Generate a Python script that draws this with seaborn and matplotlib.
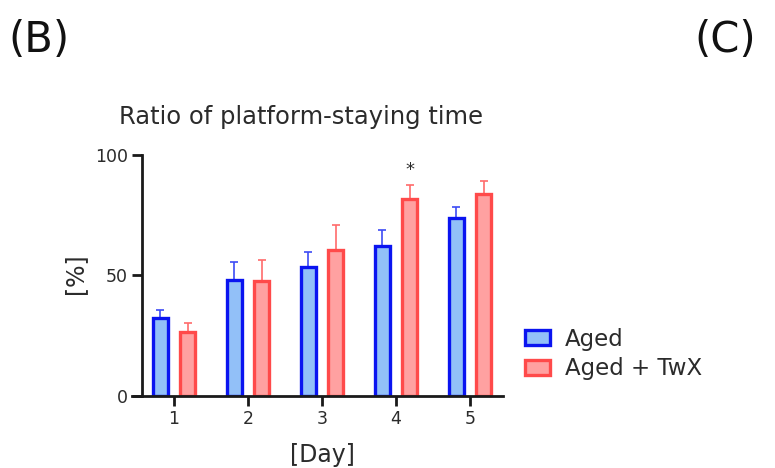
#!/usr/bin/env python3
"""Platform-staying time ratio by day, Aged vs Aged + TwX."""

import matplotlib

matplotlib.use("Agg")
import matplotlib.pyplot as plt
import pandas as pd
import seaborn as sns

sns.set_theme(style="ticks")
plt.rcParams["font.family"] = ["DejaVu Sans"]

DAYS = ["1", "2", "3", "4", "5"]
GROUPS = ["Aged", "Aged + TwX"]
AGED_MEAN = [32.2, 47.9, 53.3, 62.2, 73.7]
AGED_ERR = [3.4, 7.6, 6.3, 6.6, 4.6]
TWX_MEAN = [26.5, 47.5, 60.4, 81.6, 83.7]
TWX_ERR = [3.6, 8.7, 10.5, 6.1, 5.6]
SIGNIF = {"4": "*"}

FILL = {"Aged": "#92c0f8", "Aged + TwX": "#ffa1a1"}
EDGE = {"Aged": "#0a14f0", "Aged + TwX": "#ff4a4a"}
ERRC = {"Aged": "#3d4cf5", "Aged + TwX": "#ff6b6b"}
TEXT = "#2b2b2b"


def build_frame() -> pd.DataFrame:
    rows = []
    for group, means, errs in ((GROUPS[0], AGED_MEAN, AGED_ERR), (GROUPS[1], TWX_MEAN, TWX_ERR)):
        for day, m, e in zip(DAYS, means, errs):
            rows.append({"day": day, "group": group, "ratio": m, "err": e})
    return pd.DataFrame(rows)


def main() -> None:
    df = build_frame()
    fig = plt.figure(figsize=(7.75, 4.68), dpi=100)
    ax = fig.add_axes([131.7 / 775, 1 - 395.7 / 468, (503 - 131.7) / 775, (395.7 - 155) / 468])

    sns.barplot(
        data=df, x="day", y="ratio", hue="group", order=DAYS, hue_order=GROUPS,
        palette=FILL, saturation=1, errorbar=None, width=0.74, gap=0.46,
        linewidth=2.4, ax=ax,
    )

    # edges + upper-only error bars per hue level
    for group, container in zip(GROUPS, ax.containers):
        sub = df[df["group"] == group].set_index("day").loc[DAYS]
        xs = []
        for bar in container:
            bar.set_edgecolor(EDGE[group])
            bar.set_linewidth(2.4)
            xs.append(bar.get_x() + bar.get_width() / 2)
        ax.errorbar(
            xs, sub["ratio"], yerr=[[0] * len(DAYS), sub["err"]], fmt="none",
            ecolor=ERRC[group], elinewidth=1.2, capsize=3, capthick=1.2, zorder=1,
        )
    for bar in ax.patches:
        bar.set_zorder(2)

    red_bars = list(ax.containers[1])
    for day, mark in SIGNIF.items():
        i = DAYS.index(day)
        bar = red_bars[i]
        top = TWX_MEAN[i] + TWX_ERR[i]
        ax.text(bar.get_x() + bar.get_width() / 2, top + 2.5, mark, ha="center", va="bottom",
                fontsize=13, color=TEXT)

    ax.set_ylim(0, 100)
    ax.set_xlim(-0.572, 4.446)
    ax.set_yticks([0, 50, 100])
    ax.spines["left"].set_position(("data", -0.4365))
    ax.spines["left"].set_bounds(0, 100)
    sns.despine(ax=ax)
    for side in ("left", "bottom"):
        ax.spines[side].set_linewidth(2)
        ax.spines[side].set_color("#1a1a1a")
    ax.tick_params(axis="both", length=7, width=2, color="#1a1a1a", labelsize=12.5,
                   labelcolor=TEXT, pad=3)
    ax.set_xlabel("[Day]", fontsize=17, color=TEXT)
    ax.set_ylabel("[%]", fontsize=17, color=TEXT)
    ax.xaxis.set_label_coords(0.514, -0.246)
    ax.xaxis.label.set_va("center")
    ax.yaxis.set_label_coords(-0.153, 0.506)
    ax.yaxis.label.set_va("center")

    handles, labels = ax.get_legend_handles_labels()
    for h, g in zip(handles, GROUPS):
        h.set_edgecolor(EDGE[g])
        h.set_linewidth(2.4)
    ax.legend(handles, labels, loc="center left", bbox_to_anchor=(1.059, 0.173), frameon=False,
              fontsize=16.5, handlelength=1.1, handleheight=0.6, handletextpad=0.65,
              labelspacing=0.3, borderpad=0, borderaxespad=0, labelcolor=TEXT)

    fig.text(301 / 775, 1 - 117 / 468, "Ratio of platform-staying time", ha="center",
             va="center", fontsize=17.5, color=TEXT)
    fig.text(8 / 775, 1 - 40 / 468, "(B)", ha="left", va="center", fontsize=30, color="#111111")
    fig.text(694 / 775, 1 - 40 / 468, "(C)", ha="left", va="center", fontsize=30, color="#111111")

    fig.savefig("out.png", dpi=100)
    plt.close(fig)


if __name__ == "__main__":
    main()
